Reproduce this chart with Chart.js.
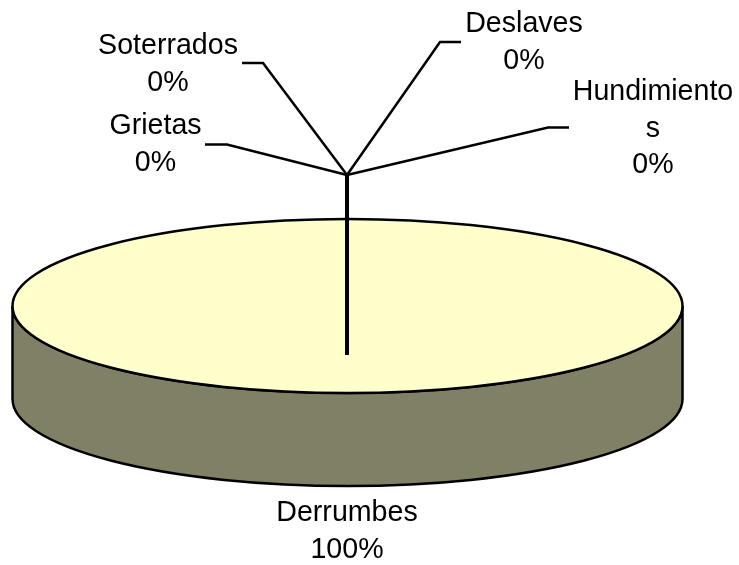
<!DOCTYPE html>
<html>
<head>
<meta charset="utf-8">
<title>Derrumbes</title>
<script src="https://cdn.jsdelivr.net/npm/chart.js@4"></script>
<style>
  html, body { margin: 0; padding: 0; background: #fff; }
  canvas { display: block; }
</style>
</head>
<body>
<canvas id="pieChart" width="739" height="565"></canvas>
<script>
const categories = ['Derrumbes', 'Deslaves', 'Hundimientos', 'Grietas', 'Soterrados'];
const values = [100, 0, 0, 0, 0];
const sliceColors = ['#FFFFCC', '#9999FF', '#993366', '#CCFFFF', '#660066'];

// where the flattened pie sits on the page
const disc = { x: 347.5, y: 306, rx: 335, ry: 87, depth: 93 };
const wallColor = '#808066';
const labelFont = '28.6px "Liberation Sans", Arial, sans-serif';
const lineHeight = 36.5;
const hub = { x: 347, y: 175 };

// label placement, same order as categories
const labelSpots = [
  { x: 347, y: 521, wrap: 20, line: null },
  { x: 524, y: 32, wrap: 20, line: [[461, 42], [440, 42]] },
  { x: 653, y: 100, wrap: 11, line: [[569, 127.5], [548, 127.5]] },
  { x: 155.5, y: 134, wrap: 20, line: [[205, 144.5], [227, 144.5]] },
  { x: 168, y: 54, wrap: 20, line: [[242, 63], [263, 63]] }
];

const total = values.reduce((a, b) => a + b, 0);

const fakeCylinder = {
  id: 'fakeCylinder',
  beforeDatasetsDraw(chart) {
    const ctx = chart.ctx;
    const arc = chart.getDatasetMeta(0).data[0];
    ctx.save();
    ctx.beginPath();
    ctx.ellipse(disc.x, disc.y + disc.depth, disc.rx, disc.ry, 0, 0, Math.PI);
    ctx.lineTo(disc.x - disc.rx, disc.y);
    ctx.ellipse(disc.x, disc.y, disc.rx, disc.ry, 0, Math.PI, 0, true);
    ctx.closePath();
    ctx.fillStyle = wallColor;
    ctx.fill();
    ctx.strokeStyle = '#000';
    ctx.lineWidth = 2.5;
    ctx.stroke();
    ctx.restore();

    // squash the library's circle into the top of the cylinder
    ctx.save();
    ctx.translate(disc.x, disc.y);
    ctx.scale(disc.rx / arc.outerRadius, disc.ry / arc.outerRadius);
    ctx.translate(-arc.x, -arc.y);
  },
  afterDatasetsDraw(chart) {
    const ctx = chart.ctx;
    ctx.restore();
    ctx.save();
    ctx.strokeStyle = '#000';
    ctx.lineWidth = 2.5;
    ctx.beginPath();
    ctx.ellipse(disc.x, disc.y, disc.rx, disc.ry, 0, 0, Math.PI * 2);
    ctx.stroke();

    // leader lines
    labelSpots.forEach(function(spot) {
      if (!spot.line) return;
      ctx.beginPath();
      ctx.moveTo(spot.line[0][0], spot.line[0][1]);
      ctx.lineTo(spot.line[1][0], spot.line[1][1]);
      ctx.lineTo(hub.x, hub.y);
      ctx.stroke();
    });
    ctx.lineWidth = 4;
    ctx.beginPath();
    ctx.moveTo(hub.x, hub.y);
    ctx.lineTo(hub.x, disc.y + 49);
    ctx.stroke();

    // labels
    ctx.fillStyle = '#000';
    ctx.font = labelFont;
    ctx.textAlign = 'center';
    ctx.textBaseline = 'alphabetic';
    categories.forEach(function(name, i) {
      const spot = labelSpots[i];
      const lines = [];
      for (let p = 0; p < name.length; p += spot.wrap) {
        lines.push(name.slice(p, p + spot.wrap));
      }
      lines.push(Math.round(values[i] / total * 100) + '%');
      lines.forEach(function(text, n) {
        ctx.fillText(text, spot.x, spot.y + n * lineHeight);
      });
    });
    ctx.restore();
  }
};

new Chart(document.getElementById('pieChart'), {
  type: 'pie',
  data: {
    labels: categories,
    datasets: [{
      data: values,
      backgroundColor: sliceColors,
      borderWidth: 0,
      clip: false
    }]
  },
  options: {
    responsive: false,
    animation: false,
    plugins: {
      legend: { display: false },
      tooltip: { enabled: false }
    }
  },
  plugins: [fakeCylinder]
});
</script>
</body>
</html>
